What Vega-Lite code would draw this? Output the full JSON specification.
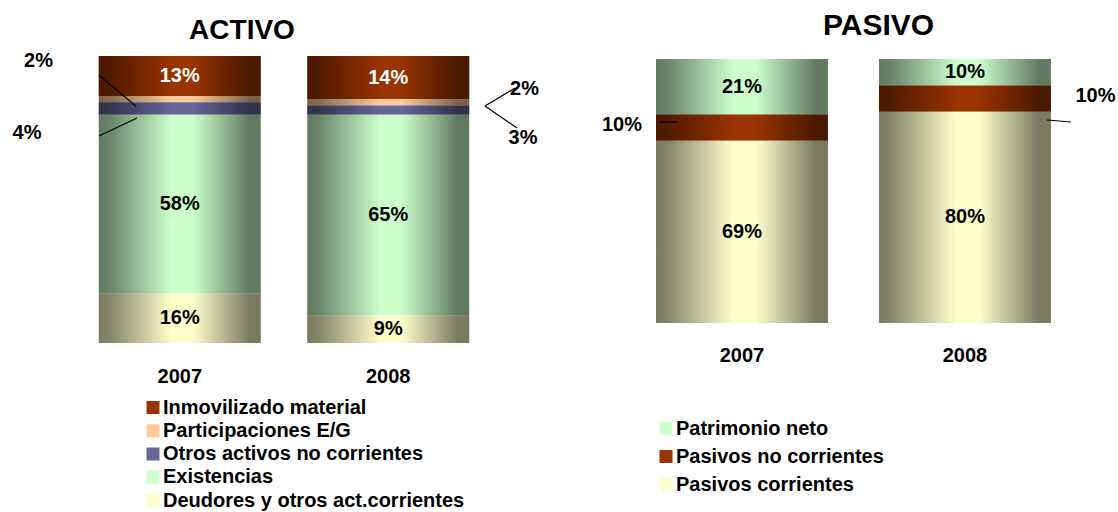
{
  "$schema": "https://vega.github.io/schema/vega-lite/v6.json",
  "padding": {"left": 0, "top": 11, "right": 0, "bottom": 0},
  "background": "white",
  "config": {
    "font": "Liberation Sans",
    "view": {"stroke": null},
    "axis": {"labelFont": "Liberation Sans", "labelFontSize": 20, "labelFontWeight": "bold", "labelColor": "black", "domain": false, "ticks": false, "tickSize": 0, "grid": false, "title": null, "labelAngle": 0},
    "legend": {"labelFont": "Liberation Sans", "labelFontSize": 20, "labelFontWeight": "bold", "labelColor": "black", "symbolType": "square", "symbolSize": 169, "symbolStrokeWidth": 0, "labelOffset": 0, "padding": 0, "titlePadding": 0, "labelLimit": 500},
    "title": {"font": "Liberation Sans", "fontWeight": "bold", "color": "black"},
    "text": {"font": "Liberation Sans", "fontSize": 20, "fontWeight": "bold", "baseline": "middle", "align": "center"}
  },
  "datasets": {
    "activo": [
      {"year": "2007", "cat": "Inmovilizado material", "value": 13, "orden": 5},
      {"year": "2007", "cat": "Participaciones E/G", "value": 2, "orden": 4},
      {"year": "2007", "cat": "Otros activos no corrientes", "value": 4, "orden": 3},
      {"year": "2007", "cat": "Existencias", "value": 58, "orden": 2},
      {"year": "2007", "cat": "Deudores y otros act.corrientes", "value": 16, "orden": 1},
      {"year": "2008", "cat": "Inmovilizado material", "value": 14, "orden": 5},
      {"year": "2008", "cat": "Participaciones E/G", "value": 2, "orden": 4},
      {"year": "2008", "cat": "Otros activos no corrientes", "value": 3, "orden": 3},
      {"year": "2008", "cat": "Existencias", "value": 65, "orden": 2},
      {"year": "2008", "cat": "Deudores y otros act.corrientes", "value": 9, "orden": 1}
    ],
    "pasivo": [
      {"year": "2007", "cat": "Patrimonio neto", "value": 21, "orden": 3},
      {"year": "2007", "cat": "Pasivos no corrientes", "value": 10, "orden": 2},
      {"year": "2007", "cat": "Pasivos corrientes", "value": 69, "orden": 1},
      {"year": "2008", "cat": "Patrimonio neto", "value": 10, "orden": 3},
      {"year": "2008", "cat": "Pasivos no corrientes", "value": 10, "orden": 2},
      {"year": "2008", "cat": "Pasivos corrientes", "value": 80, "orden": 1}
    ]
  },
  "spacing": 0,
  "bounds": "flush",
  "resolve": {"scale": {"color": "independent", "x": "independent", "y": "independent"}, "legend": {"color": "independent"}},
  "hconcat": [
    {
      "title": {"text": "ACTIVO", "fontSize": 28, "anchor": "middle", "frame": "group", "dx": -42, "offset": -16, "baseline": "alphabetic"},
      "width": 568,
      "height": 287,
      "data": {"name": "activo"},
      "transform": [
        {"stack": "value", "groupby": ["year"], "sort": [{"field": "orden", "order": "ascending"}], "offset": "normalize", "as": ["v0", "v1"]},
        {"calculate": "(datum.v0 + datum.v1) / 2", "as": "mid"},
        {"calculate": "datum.value + '%'", "as": "lbl"}
      ],
      "encoding": {
        "x": {"field": "year", "type": "nominal", "scale": {"paddingInner": 0.223, "paddingOuter": 0.4737}, "axis": {"labelPadding": 23}}
      },
      "layer": [
        {
          "mark": {"type": "bar", "strokeWidth": 0},
          "encoding": {
            "y": {"field": "v0", "type": "quantitative", "scale": {"domain": [0, 1], "nice": false}, "axis": null},
            "y2": {"field": "v1"},
            "color": {
              "field": "cat", "type": "nominal",
              "scale": {
                "domain": ["Inmovilizado material", "Participaciones E/G", "Otros activos no corrientes", "Existencias", "Deudores y otros act.corrientes"],
                "range": ["#993300", "#ffcc99", "#666699", "#ccffcc", "#ffffcc"]
              },
              "legend": {"orient": "none", "legendX": 143, "legendY": 341.5, "direction": "vertical", "title": null, "rowPadding": 3.25}
            }
          }
        },
        {
          "mark": {"type": "bar", "strokeWidth": 0, "color": {"gradient": "linear", "x1": 0, "y1": 0, "x2": 1, "y2": 0, "stops": [{"offset": 0, "color": "rgba(0,0,0,0.52)"}, {"offset": 0.07, "color": "rgba(0,0,0,0.48)"}, {"offset": 0.45, "color": "rgba(0,0,0,0)"}, {"offset": 0.58, "color": "rgba(0,0,0,0)"}, {"offset": 0.93, "color": "rgba(0,0,0,0.52)"}, {"offset": 1, "color": "rgba(0,0,0,0.52)"}]}},
          "encoding": {
            "y": {"field": "v0", "type": "quantitative"},
            "y2": {"field": "v1"}
          }
        },
        {
          "transform": [{"filter": "datum.value >= 5"}],
          "mark": {"type": "text"},
          "encoding": {
            "y": {"field": "mid", "type": "quantitative"},
            "text": {"field": "lbl"},
            "color": {"condition": {"test": "datum.cat === 'Inmovilizado material'", "value": "white"}, "value": "black"}
          }
        },
        {
          "transform": [{"filter": "datum.year === '2007' && datum.cat === 'Participaciones E/G'"}],
          "mark": {"type": "text", "dx": -141.3, "dy": -38, "color": "black"},
          "encoding": {"y": {"field": "mid", "type": "quantitative"}, "text": {"field": "lbl"}}
        },
        {
          "transform": [{"filter": "datum.year === '2007' && datum.cat === 'Otros activos no corrientes'"}],
          "mark": {"type": "text", "dx": -152.8, "dy": 24.6, "color": "black"},
          "encoding": {"y": {"field": "mid", "type": "quantitative"}, "text": {"field": "lbl"}}
        },
        {
          "transform": [{"filter": "datum.year === '2008' && datum.cat === 'Participaciones E/G'"}],
          "mark": {"type": "text", "dx": 136.25, "dy": -13, "color": "black"},
          "encoding": {"y": {"field": "mid", "type": "quantitative"}, "text": {"field": "lbl"}}
        },
        {
          "transform": [{"filter": "datum.year === '2008' && datum.cat === 'Otros activos no corrientes'"}],
          "mark": {"type": "text", "dx": 134.75, "dy": 28, "color": "black"},
          "encoding": {"y": {"field": "mid", "type": "quantitative"}, "text": {"field": "lbl"}}
        },
        {
          "transform": [{"filter": "datum.year === '2007' && datum.cat === 'Participaciones E/G'"}],
          "mark": {"type": "rule", "color": "black", "strokeWidth": 1.2, "xOffset": -80.76, "x2Offset": -43.76, "yOffset": -24, "y2Offset": 7},
          "encoding": {"x2": {"field": "year"}, "y": {"field": "mid", "type": "quantitative"}, "y2": {"field": "mid"}}
        },
        {
          "transform": [{"filter": "datum.year === '2007' && datum.cat === 'Otros activos no corrientes'"}],
          "mark": {"type": "rule", "color": "black", "strokeWidth": 1.2, "xOffset": -80.76, "x2Offset": -42.76, "yOffset": 27.6, "y2Offset": 9.6},
          "encoding": {"x2": {"field": "year"}, "y": {"field": "mid", "type": "quantitative"}, "y2": {"field": "mid"}}
        },
        {
          "transform": [{"filter": "datum.year === '2008' && datum.cat === 'Participaciones E/G'"}],
          "mark": {"type": "rule", "color": "black", "strokeWidth": 1.2, "xOffset": 96.75, "x2Offset": 126.75, "yOffset": 3.7, "y2Offset": -14.3},
          "encoding": {"x2": {"field": "year"}, "y": {"field": "mid", "type": "quantitative"}, "y2": {"field": "mid"}}
        },
        {
          "transform": [{"filter": "datum.year === '2008' && datum.cat === 'Otros activos no corrientes'"}],
          "mark": {"type": "rule", "color": "black", "strokeWidth": 1.2, "xOffset": 96.75, "x2Offset": 128.75, "yOffset": -4, "y2Offset": 18},
          "encoding": {"x2": {"field": "year"}, "y": {"field": "mid", "type": "quantitative"}, "y2": {"field": "mid"}}
        }
      ]
    },
    {
      "title": {"text": "PASIVO", "fontSize": 30, "anchor": "middle", "frame": "group", "dx": 35.5, "offset": -9, "baseline": "alphabetic"},
      "width": 550,
      "height": 267,
      "data": {"name": "pasivo"},
      "transform": [
        {"stack": "value", "groupby": ["year"], "sort": [{"field": "orden", "order": "ascending"}], "offset": "normalize", "as": ["v0", "v1"]},
        {"calculate": "(datum.v0 + datum.v1) / 2", "as": "mid"},
        {"calculate": "datum.value + '%'", "as": "lbl"}
      ],
      "encoding": {
        "x": {"field": "year", "type": "nominal", "scale": {"paddingInner": 0.229, "paddingOuter": 0.3477, "align": 0.5675}, "axis": {"labelPadding": 22}}
      },
      "layer": [
        {
          "mark": {"type": "bar", "strokeWidth": 0},
          "encoding": {
            "y": {"field": "v0", "type": "quantitative", "scale": {"domain": [0, 1.01136], "nice": false}, "axis": null},
            "y2": {"field": "v1"},
            "color": {
              "field": "cat", "type": "nominal",
              "scale": {
                "domain": ["Patrimonio neto", "Pasivos no corrientes", "Pasivos corrientes"],
                "range": ["#ccffcc", "#993300", "#ffffcc"]
              },
              "legend": {"orient": "none", "legendX": 88, "legendY": 362.5, "direction": "vertical", "title": null, "rowPadding": 8}
            }
          }
        },
        {
          "mark": {"type": "bar", "strokeWidth": 0, "color": {"gradient": "linear", "x1": 0, "y1": 0, "x2": 1, "y2": 0, "stops": [{"offset": 0, "color": "rgba(0,0,0,0.52)"}, {"offset": 0.07, "color": "rgba(0,0,0,0.48)"}, {"offset": 0.45, "color": "rgba(0,0,0,0)"}, {"offset": 0.58, "color": "rgba(0,0,0,0)"}, {"offset": 0.93, "color": "rgba(0,0,0,0.52)"}, {"offset": 1, "color": "rgba(0,0,0,0.52)"}]}},
          "encoding": {
            "y": {"field": "v0", "type": "quantitative"},
            "y2": {"field": "v1"}
          }
        },
        {
          "transform": [{"filter": "datum.cat !== 'Pasivos no corrientes'"}],
          "mark": {"type": "text", "color": "black"},
          "encoding": {"y": {"field": "mid", "type": "quantitative"}, "text": {"field": "lbl"}}
        },
        {
          "transform": [{"filter": "datum.year === '2007' && datum.cat === 'Pasivos no corrientes'"}],
          "mark": {"type": "text", "dx": -120, "dy": -2.6, "color": "black"},
          "encoding": {"y": {"field": "mid", "type": "quantitative"}, "text": {"field": "lbl"}}
        },
        {
          "transform": [{"filter": "datum.year === '2008' && datum.cat === 'Pasivos no corrientes'"}],
          "mark": {"type": "text", "dx": 130.5, "dy": -2.6, "color": "black"},
          "encoding": {"y": {"field": "mid", "type": "quantitative"}, "text": {"field": "lbl"}}
        },
        {
          "transform": [{"filter": "datum.year === '2007' && datum.cat === 'Pasivos no corrientes'"}],
          "mark": {"type": "rule", "color": "black", "strokeWidth": 1.2, "xOffset": -82, "x2Offset": -65, "yOffset": -5.6, "y2Offset": -5.6},
          "encoding": {"x2": {"field": "year"}, "y": {"field": "mid", "type": "quantitative"}, "y2": {"field": "mid"}}
        },
        {
          "transform": [{"filter": "datum.year === '2008' && datum.cat === 'Pasivos no corrientes'"}],
          "mark": {"type": "rule", "color": "black", "strokeWidth": 1.2, "xOffset": 82, "x2Offset": 106, "yOffset": 21.4, "y2Offset": 23.4},
          "encoding": {"x2": {"field": "year"}, "y": {"field": "mid", "type": "quantitative"}, "y2": {"field": "mid"}}
        }
      ]
    }
  ]
}
